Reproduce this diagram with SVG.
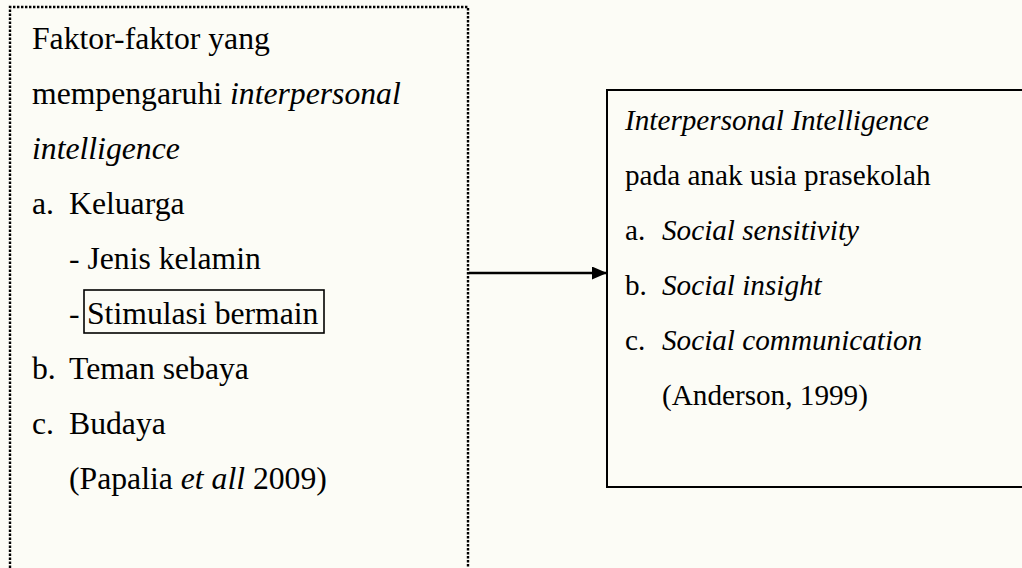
<svg xmlns="http://www.w3.org/2000/svg" width="1022" height="568" viewBox="0 0 1022 568">
<defs>
<style>
.t{font-family:"Liberation Serif","Times New Roman",serif;fill:#000;}
.l{font-size:31.7px;}
.r{font-size:29.2px;}
.i{font-style:italic;}
</style>
<marker id="ah" viewBox="0 0 15 13" refX="15" refY="6.5" markerWidth="15" markerHeight="13" markerUnits="userSpaceOnUse" orient="auto">
<path d="M0,0 L15,6.5 L0,13 Z" fill="#000"/>
</marker>
</defs>
<rect x="0" y="0" width="1022" height="568" fill="#fcfcf6"/>
<g id="factors">
<path d="M10,580 L10,7 L468,7 L468,580" fill="none" stroke="#000" stroke-width="2.4" stroke-dasharray="2.4,1.6"/>
<text class="t l" x="32" y="49">Faktor-faktor yang</text>
<text class="t l" x="32" y="104">mempengaruhi <tspan class="i">interpersonal</tspan></text>
<text class="t l i" x="32" y="159">intelligence</text>
<text class="t l" x="32" y="214">a.</text>
<text class="t l" x="69" y="214">Keluarga</text>
<text class="t l" x="69" y="269">- Jenis kelamin</text>
<text class="t l" x="69" y="324">-</text>
<rect x="84" y="290" width="240" height="43" fill="none" stroke="#000" stroke-width="1.6"/>
<text class="t l" x="87" y="324">Stimulasi bermain</text>
<text class="t l" x="32" y="379">b.</text>
<text class="t l" x="69" y="379">Teman sebaya</text>
<text class="t l" x="32" y="434">c.</text>
<text class="t l" x="69" y="434">Budaya</text>
<text class="t l" x="69" y="489">(Papalia <tspan class="i">et all</tspan> 2009)</text>
</g>
<g id="intelligence">
<rect x="607" y="90" width="430" height="397" fill="none" stroke="#000" stroke-width="2"/>
<text class="t r i" x="625" y="130">Interpersonal Intelligence</text>
<text class="t r" x="625" y="185">pada anak usia prasekolah</text>
<text class="t r" x="625" y="240">a.</text>
<text class="t r i" x="662" y="240">Social sensitivity</text>
<text class="t r" x="625" y="295">b.</text>
<text class="t r i" x="662" y="295">Social insight</text>
<text class="t r" x="625" y="350">c.</text>
<text class="t r i" x="662" y="350">Social communication</text>
<text class="t r" x="662" y="405">(Anderson, 1999)</text>
</g>
<g id="connectors">
<line x1="469" y1="273" x2="607" y2="273" stroke="#000" stroke-width="2.4" marker-end="url(#ah)"/>
</g>
</svg>
